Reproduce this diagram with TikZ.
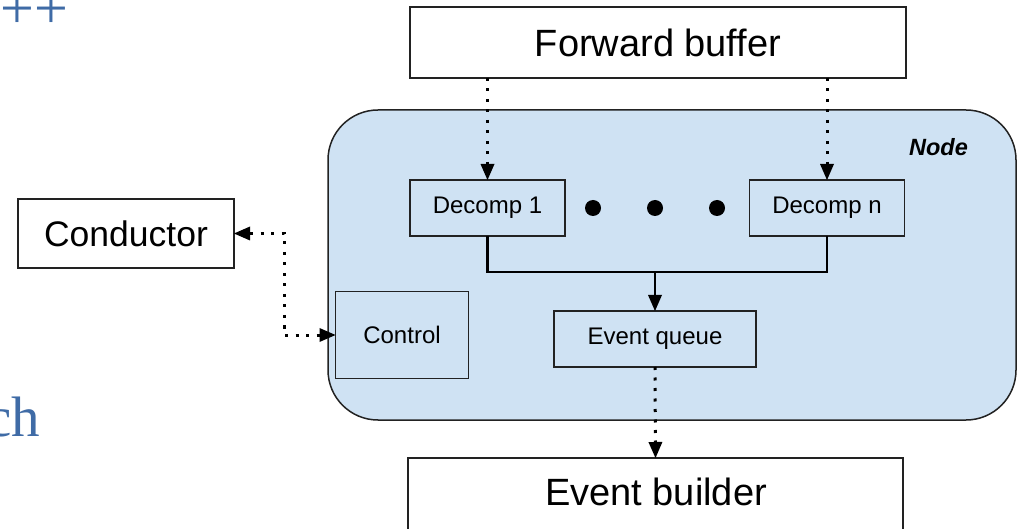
\documentclass[tikz,border=0pt]{standalone}
\usepackage{fontspec}
\setmainfont{Liberation Sans}
\newfontfamily\slideserif{Liberation Serif}
\usetikzlibrary{arrows.meta}
\definecolor{nodefill}{HTML}{CFE2F3}
\definecolor{slideblue}{HTML}{3F6BA6}
\definecolor{edge}{HTML}{222222}
\begin{document}
\begin{tikzpicture}[x=1pt,y=-1pt,
  box/.style={draw=edge, line width=1.5pt, fill=white, inner sep=0pt, outer sep=0pt},
  inbox/.style={box, fill=nodefill},
  bigtext/.style={font=\fontsize{38}{40}\selectfont},
  smalltext/.style={font=\fontsize{24}{26}\selectfont},
  dotline/.style={line width=3pt, dash pattern=on 3pt off 7.5pt,
    -{Triangle[length=16pt,width=14pt,line width=0pt]}},
  dotboth/.style={line width=3pt, dash pattern=on 3pt off 7.5pt,
    {Triangle[length=16pt,width=14pt,line width=0pt]}-{Triangle[length=16pt,width=14pt,line width=0pt]}},
  solidline/.style={line width=2.7pt, line join=miter},
  dotmark/.style={circle, fill=black, inner sep=0pt, minimum size=16pt}
]
\clip (0,0) rectangle (1020,529);
\fill[white] (0,0) rectangle (1020,529);

% remnants of the slide
\node[anchor=base west, inner sep=0pt, text=slideblue, font=\slideserif\fontsize{60}{60}\selectfont] (plus) at (0.2,29) {++};
\node[anchor=base east, inner sep=0pt, text=slideblue, font=\slideserif\fontsize{57}{57}\selectfont] (ch) at (40,436) {ch};

% main nodes
\node[box, bigtext, minimum width=496pt, minimum height=71pt] (fb) at (658,42.5) {Forward buffer};
\node[draw=edge, line width=1.5pt, fill=nodefill, rounded corners=50pt, minimum width=688pt, minimum height=310pt, inner sep=0pt] (node) at (672,265) {};
\node[font=\fontsize{23.5}{26}\selectfont\bfseries\itshape, inner sep=0pt] (nodelabel) at (938.5,147) {Node};

\node[inbox, smalltext, minimum width=155pt, minimum height=56pt] (d1) at (487.5,208) {Decomp 1};
\node[inbox, smalltext, minimum width=155pt, minimum height=56pt] (dn) at (827,208) {Decomp n};
\node[dotmark] (p1) at (593,208) {};
\node[dotmark] (p2) at (655,208) {};
\node[dotmark] (p3) at (717,208) {};

\node[inbox, smalltext, minimum width=202pt, minimum height=56pt] (eq) at (655,339) {Event queue};
\node[inbox, smalltext, minimum width=133pt, minimum height=87pt] (ctrl) at (402,335) {Control};

\node[box, font=\fontsize{35.5}{38}\selectfont, minimum width=216pt, minimum height=69pt] (cond) at (126,233.5) {Conductor};

\node[box, minimum width=495pt, minimum height=90pt, anchor=north] (eb) at (655.5,458) {};
\node[bigtext, inner sep=0pt] (ebl) at (656,492) {Event builder};

% connectors
\draw[dotline] (fb.south -| d1.north) -- (d1.north);
\draw[dotline] (fb.south -| dn.north) -- (dn.north);

\coordinate (j) at (655,272);
\draw[solidline] (d1.south) |- (j) -| (dn.south);
\draw[solidline, -{Triangle[length=16pt,width=14pt,line width=0pt]}] (j) -- (eq.north);

\draw[dotline] (eq.south) -- (eb.north);

\coordinate (bend) at (284,233.5);
\draw[dotboth] (cond.east) -- (bend) |- (ctrl.west);
\end{tikzpicture}
\end{document}
